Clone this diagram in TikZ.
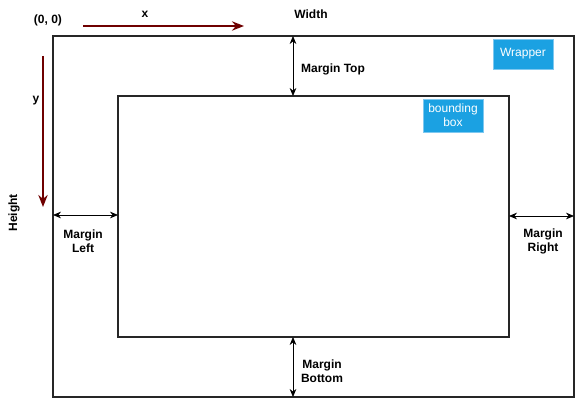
\documentclass[tikz,border=0pt]{standalone}
\usepackage{fontspec}
\setmainfont{Liberation Sans}
\usetikzlibrary{arrows.meta}
\definecolor{dred}{HTML}{6F0000}
\definecolor{blbox}{HTML}{1BA1E2}
\definecolor{blline}{HTML}{7EC8F0}
\begin{document}
\begin{tikzpicture}[x=0.75pt,y=-0.75pt,
  frame/.style={draw=black!85,line width=1.5pt},
  lbl/.style={font=\bfseries\fontsize{9}{10.5}\selectfont,align=center,inner sep=0pt},
  dim/.style={{Stealth[length=6pt,width=5pt]}-{Stealth[length=6pt,width=5pt]},line width=0.6pt},
  axis/.style={-{Stealth[length=9pt,width=7pt]},draw=dred,line width=1.4pt},
  tag/.style={fill=blbox,draw=blline,line width=0.6pt,text=white,font=\fontsize{9}{10.5}\selectfont,align=center,inner sep=0pt}]
\useasboundingbox (0,0) rectangle (583,406);
\draw[frame] (53,36) rectangle (574,397);
\draw[frame] (118,96) rectangle (509,337);
\coordinate (ot) at (293,36); \coordinate (it) at (293,96);
\coordinate (ob) at (293,397); \coordinate (ib) at (293,337);
\coordinate (ol) at (53,215); \coordinate (il) at (118,215);
\coordinate (or) at (574,216); \coordinate (ir) at (509,216);
\draw[dim] (ot) -- (it);
\draw[dim] (ib) -- (ob);
\draw[dim] (ol) -- (il);
\draw[dim] (ir) -- (or);
\coordinate (xa) at (83,26); \coordinate (xb) at (244,26);
\coordinate (ya) at (43,56); \coordinate (yb) at (43,207);
\draw[axis] (xa) -- (xb);
\draw[axis] (ya) -- (yb);
\node[tag,minimum width=45pt,minimum height=22.5pt] (wr) at (523,54) {Wrapper};
\node[tag,minimum width=45pt,minimum height=24.75pt] (bb) at (453,115.5) {bounding\\box};
\node[lbl] (origin) at (48,20) {(0, 0)};
\node[lbl] (xl) at (145,14) {x};
\node[lbl] (wl) at (311,14) {Width};
\node[lbl] (yl) at (36,101) {y};
\node[lbl,rotate=90] (hl) at (14,213) {Height};
\node[lbl] (mt) at (333,69) {Margin Top};
\node[lbl] (ml) at (83,241) {Margin\\Left};
\node[lbl] (mr) at (543,241) {Margin\\Right};
\node[lbl] (mb) at (322,371) {Margin\\Bottom};
\end{tikzpicture}
\end{document}
